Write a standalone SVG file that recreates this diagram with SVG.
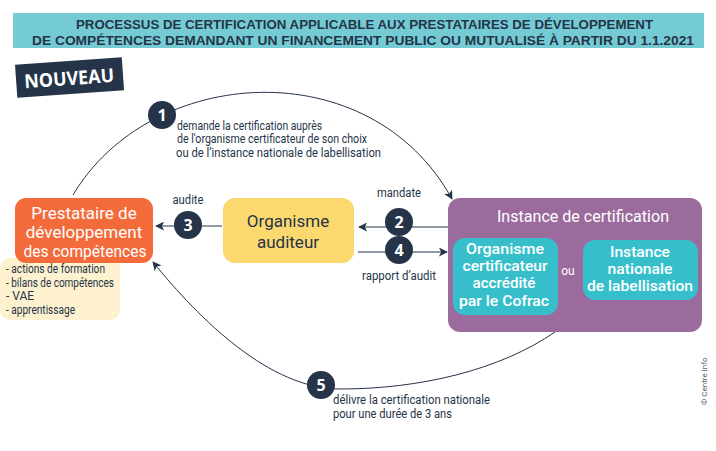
<svg xmlns="http://www.w3.org/2000/svg" width="716" height="451" viewBox="0 0 716 451">
<style>
.title{font-family:"Liberation Sans",Arial,sans-serif;font-weight:700;font-size:13.5px;fill:#253448}
.lbl{font-family:Roboto,"Liberation Sans",sans-serif;font-size:12px;fill:#253448}
.big{font-family:Roboto,"Liberation Sans",sans-serif;font-size:17px;text-anchor:middle}
.in{font-family:Roboto,"Liberation Sans",sans-serif;font-size:15px;font-weight:500;text-anchor:middle;fill:#fff}
.num{font-family:"Open Sans","Liberation Sans",sans-serif;font-weight:700;font-size:16px;fill:#fff;text-anchor:middle}
.conn{fill:none;stroke:#253448;stroke-width:1}
.circ{fill:#253448}
</style>
<defs>
<marker id="ah" viewBox="0 0 10 10" refX="9" refY="5" markerWidth="9" markerHeight="9" markerUnits="userSpaceOnUse" orient="auto">
<path d="M0,0 L10,5 L0,10 L2.5,5 Z" fill="#253448"/>
</marker>
</defs>
<rect width="716" height="451" fill="#fff"/>
<g id="title">
<rect x="13" y="13" width="691" height="35" fill="#74cbd3"/>
<text class="title" x="76" y="29" textLength="577" lengthAdjust="spacingAndGlyphs">PROCESSUS DE CERTIFICATION APPLICABLE AUX PRESTATAIRES DE DÉVELOPPEMENT</text>
<text class="title" x="32" y="45" textLength="662" lengthAdjust="spacingAndGlyphs">DE COMPÉTENCES DEMANDANT UN FINANCEMENT PUBLIC OU MUTUALISÉ À PARTIR DU 1.1.2021</text>
</g>
<g id="nouveau" transform="rotate(-4 70 77)">
<rect x="16" y="61" width="107" height="33" fill="#253448"/>
<text x="69" y="85" text-anchor="middle" font-family="Open Sans,Liberation Sans,sans-serif" font-weight="700" font-size="19" fill="#fff" textLength="90" lengthAdjust="spacingAndGlyphs">NOUVEAU</text>
</g>
<g id="connectors">
<path class="conn" d="M73 195 C150 65 370 50 452 199" marker-end="url(#ah)"/>
<path class="conn" d="M555 332 C500 370 420 389 340 389 C270 389 200 320 153 262" marker-end="url(#ah)"/>
<line class="conn" x1="222" y1="226" x2="156" y2="226" marker-end="url(#ah)"/>
<line class="conn" x1="448" y1="227" x2="359" y2="227" marker-end="url(#ah)"/>
<line class="conn" x1="358" y1="252" x2="447" y2="252" marker-end="url(#ah)"/>
</g>
<g id="step1">
<circle class="circ" cx="162" cy="115" r="14"/>
<text class="num" x="162" y="121">1</text>
<text class="lbl" x="177" y="130" textLength="145" lengthAdjust="spacingAndGlyphs">demande la certification auprès</text>
<text class="lbl" x="177" y="143" textLength="190" lengthAdjust="spacingAndGlyphs">de l'organisme certificateur de son choix</text>
<text class="lbl" x="176" y="157" textLength="205" lengthAdjust="spacingAndGlyphs">ou de l’instance nationale de labellisation</text>
</g>
<g id="step2">
<circle class="circ" cx="399" cy="222" r="14"/>
<text class="num" x="399" y="228">2</text>
<text class="lbl" x="399" y="197" text-anchor="middle" textLength="44" lengthAdjust="spacingAndGlyphs">mandate</text>
</g>
<g id="step3">
<circle class="circ" cx="188" cy="225" r="14"/>
<text class="num" x="188" y="231">3</text>
<text class="lbl" x="188" y="204" text-anchor="middle" textLength="31" lengthAdjust="spacingAndGlyphs">audite</text>
</g>
<g id="step4">
<circle class="circ" cx="399" cy="250" r="14"/>
<text class="num" x="399" y="256">4</text>
<text class="lbl" x="399" y="280" text-anchor="middle" textLength="74" lengthAdjust="spacingAndGlyphs">rapport d’audit</text>
</g>
<g id="step5">
<circle class="circ" cx="321" cy="385" r="14"/>
<text class="num" x="321" y="391">5</text>
<text class="lbl" x="333" y="404" textLength="157" lengthAdjust="spacingAndGlyphs">délivre la certification nationale</text>
<text class="lbl" x="333" y="418" textLength="119" lengthAdjust="spacingAndGlyphs">pour une durée de 3 ans</text>
</g>
<g id="prestataire">
<rect x="0" y="258" width="120" height="62" rx="10" fill="#fdf1cf"/>
<rect x="15" y="198" width="138" height="65" rx="11" fill="#f36b3b"/>
<text class="big" x="84" y="219" fill="#fff">Prestataire de</text>
<text class="big" x="84" y="238" fill="#fff">développement</text>
<text class="big" x="85" y="257" fill="#fff" textLength="123" lengthAdjust="spacingAndGlyphs">des compétences</text>
<text class="lbl" x="6" y="273" font-size="10.5" textLength="99" lengthAdjust="spacingAndGlyphs">- actions de formation</text>
<text class="lbl" x="6" y="287" font-size="10.5" textLength="108" lengthAdjust="spacingAndGlyphs">- bilans de compétences</text>
<text class="lbl" x="6" y="300" font-size="10.5">- VAE</text>
<text class="lbl" x="6" y="314" font-size="10.5" textLength="69" lengthAdjust="spacingAndGlyphs">- apprentissage</text>
</g>
<g id="auditeur">
<rect x="223" y="198" width="131" height="65" rx="12" fill="#fcd96f"/>
<text class="big" x="288" y="227" fill="#253448" font-size="18">Organisme</text>
<text class="big" x="288" y="248" fill="#253448" font-size="18">auditeur</text>
</g>
<g id="instance">
<rect x="448" y="198" width="254" height="134" rx="12" fill="#9a6b9c"/>
<text class="big" x="583" y="222" fill="#fff" textLength="172" lengthAdjust="spacingAndGlyphs">Instance de certification</text>
<rect x="453" y="238" width="105" height="77" rx="12" fill="#36bfcb"/>
<text class="in" x="505" y="254" textLength="78" lengthAdjust="spacingAndGlyphs">Organisme</text>
<text class="in" x="505" y="271" textLength="85" lengthAdjust="spacingAndGlyphs">certificateur</text>
<text class="in" x="504" y="288" textLength="63" lengthAdjust="spacingAndGlyphs">accrédité</text>
<text class="in" x="504" y="306" textLength="90" lengthAdjust="spacingAndGlyphs">par le Cofrac</text>
<text x="568" y="275" text-anchor="middle" font-family="Roboto,Liberation Sans,sans-serif" font-size="12" fill="#fff">ou</text>
<rect x="583" y="240" width="115" height="60" rx="12" fill="#36bfcb"/>
<text class="in" x="640" y="257" textLength="60" lengthAdjust="spacingAndGlyphs">Instance</text>
<text class="in" x="640" y="274" textLength="65" lengthAdjust="spacingAndGlyphs">nationale</text>
<text class="in" x="640" y="291" textLength="106" lengthAdjust="spacingAndGlyphs">de labellisation</text>
</g>
<text x="707" y="405" transform="rotate(-90 707 405)" font-family="Roboto,Liberation Sans,sans-serif" font-size="8" fill="#555">© Centre Info</text>
</svg>
